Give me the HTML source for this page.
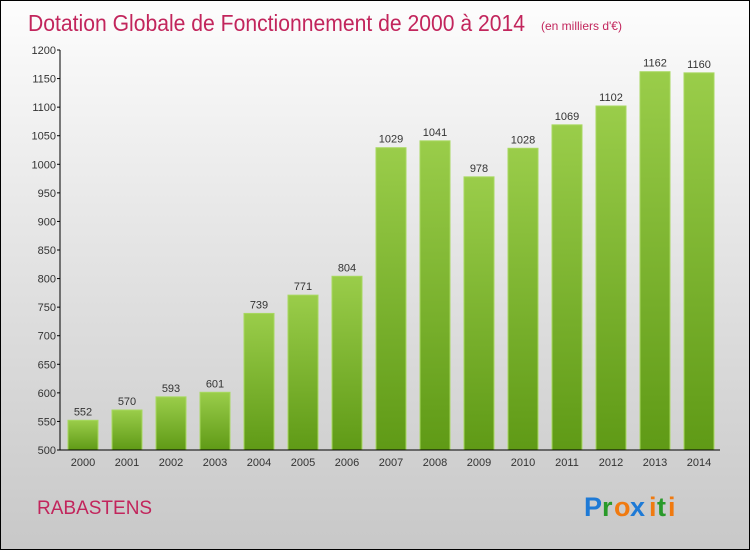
<!DOCTYPE html>
<html><head><meta charset="utf-8"><style>
html,body{margin:0;padding:0}
#c{position:relative;width:748px;height:548px;border:1px solid #000;background:linear-gradient(#fdfdfd,#dcdcdc 60%,#c8c8c8);font-family:"Liberation Sans",sans-serif;overflow:hidden}
svg text{font-family:"Liberation Sans",sans-serif}
</style></head><body>
<div id="c">
<svg id="s" width="748" height="548">
<defs><linearGradient id="g" x1="0" y1="0" x2="0" y2="1"><stop offset="0" stop-color="#9acd4a"/><stop offset="1" stop-color="#5f9a16"/></linearGradient></defs>
<text x="27" y="30" font-size="23" fill="#c2255c" textLength="497" lengthAdjust="spacingAndGlyphs">Dotation Globale de Fonctionnement de 2000 à 2014</text>
<text x="540" y="29" font-size="12" fill="#c2255c">(en milliers d'€)</text>
<text x="36" y="513" font-size="19" fill="#c2255c">RABASTENS</text>
<g font-size="27" font-weight="bold">
<text x="583" y="515" fill="#1e7ad6">P</text><text x="601" y="515" fill="#2a9a2a">r</text><text x="613" y="515" fill="#f07a10">o</text><text x="629" y="515" fill="#1e7ad6">x</text><text x="648" y="515" fill="#f07a10">i</text><text x="656" y="515" fill="#2a9a2a">t</text><text x="667" y="515" fill="#f07a10">i</text>
</g>
<g id="plot"></g>
</svg>
</div>
<script>
const years=["2000","2001","2002","2003","2004","2005","2006","2007","2008","2009","2010","2011","2012","2013","2014"];
const values=[552,570,593,601,739,771,804,1029,1041,978,1028,1069,1102,1162,1160];
const ticks=[500,550,600,650,700,750,800,850,900,950,1000,1050,1100,1150,1200];
const NS="http://www.w3.org/2000/svg";
const g=document.getElementById('plot');
const y0=449,y1=49,vmin=500,vmax=1200;
const yS=v=>y0-(v-vmin)/(vmax-vmin)*(y0-y1);
const xS=i=>82+i*44;
function mk(t,a){const e=document.createElementNS(NS,t);for(const k in a)e.setAttribute(k,a[k]);g.appendChild(e);return e;}
ticks.forEach(t=>{
 const l=mk('line',{x1:56,x2:59,y1:yS(t),y2:yS(t),stroke:'#000'});
 
 
 const tx=mk('text',{x:55,y:yS(t)+4,'font-size':11,fill:'#333','text-anchor':'end'});tx.textContent=t;
 
 
});
values.forEach((v,i)=>{
 const x=xS(i);
 const r=mk('rect',{x:x-15,y:yS(v),width:30,height:y0-yS(v),fill:'url(#g)',stroke:'#a8d860','stroke-width':1});
 
 
 const lb=mk('text',{x:x,y:yS(v)-5,'font-size':11,fill:'#333','text-anchor':'middle'});lb.textContent=v;
 
 
 const xl=mk('text',{x:x,y:465,'font-size':11,fill:'#333','text-anchor':'middle'});xl.textContent=years[i];
 
 
});
const ya=mk('line',{x1:59,x2:59,y1:y1,y2:y0,stroke:'#000'});


const xa=mk('line',{x1:59,x2:719,y1:y0,y2:y0,stroke:'#000'});


</script>
</body></html>
